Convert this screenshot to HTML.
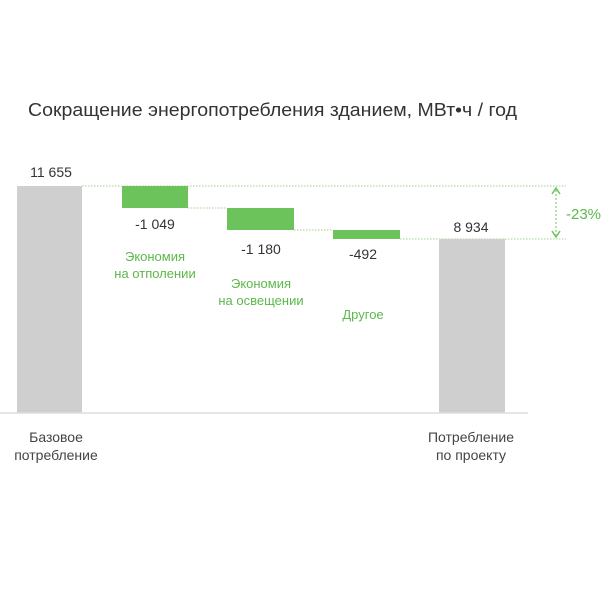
<!DOCTYPE html>
<html><head><meta charset="utf-8"><style>
body{margin:0;background:#fff;}
svg{display:block;font-family:"Liberation Sans","DejaVu Sans",sans-serif;}
</style></head><body>
<svg width="610" height="596" viewBox="0 0 610 596">
<text x="28" y="116" font-size="18" fill="#333" textLength="489" lengthAdjust="spacingAndGlyphs">Сокращение энергопотребления зданием, МВт•ч / год</text>
<line x1="82" y1="186" x2="566" y2="186" stroke="#9fd38f" stroke-width="1" stroke-dasharray="1.5,1.5"/>
<line x1="400" y1="239" x2="566" y2="239" stroke="#9fd38f" stroke-width="1" stroke-dasharray="1.5,1.5"/>
<line x1="188" y1="208" x2="227" y2="208" stroke="#9fd38f" stroke-dasharray="1.5,1.5"/>
<line x1="294" y1="230" x2="333" y2="230" stroke="#9fd38f" stroke-dasharray="1.5,1.5"/>
<rect x="17" y="186" width="65" height="227" fill="#cfcfcf"/>
<rect x="439" y="239" width="66" height="174" fill="#cfcfcf"/>
<rect x="122" y="186" width="66" height="22" fill="#6cc35c"/>
<rect x="227" y="208" width="67" height="22" fill="#6cc35c"/>
<rect x="333" y="230" width="67" height="9" fill="#6cc35c"/>
<line x1="0" y1="413" x2="528" y2="413" stroke="#ddd" stroke-width="1.5"/>
<line x1="556" y1="190" x2="556" y2="235" stroke="#6cc35c" stroke-dasharray="2,2"/>
<path d="M552,194 L556,188 L560,194 M552,231 L556,237 L560,231" stroke="#6cc35c" fill="none" stroke-width="1.5"/>
<text x="566" y="219" font-size="15" fill="#5cb84a">-23%</text>
<g font-size="14" fill="#333" text-anchor="middle">
<text x="51" y="177">11 655</text>
<text x="155" y="229">-1 049</text>
<text x="261" y="254">-1 180</text>
<text x="363" y="259">-492</text>
<text x="471" y="232">8 934</text>
</g>
<g font-size="13" fill="#5cb84a" text-anchor="middle">
<text x="155" y="261">Экономия</text>
<text x="155" y="278">на отполении</text>
<text x="261" y="288">Экономия</text>
<text x="261" y="305">на освещении</text>
<text x="363" y="319">Другое</text>
</g>
<g font-size="14" fill="#444" text-anchor="middle">
<text x="56" y="442">Базовое</text>
<text x="56" y="460">потребление</text>
<text x="471" y="442">Потребление</text>
<text x="471" y="460">по проекту</text>
</g>
</svg>
</body></html>
